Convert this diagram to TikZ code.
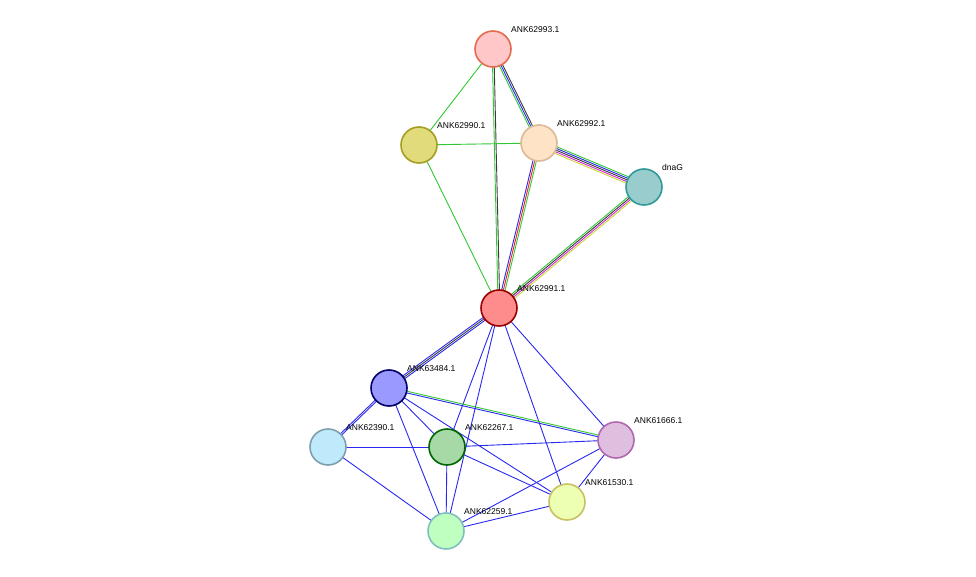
\documentclass[tikz,border=0pt]{standalone}
\usepackage{fontspec}
\setmainfont{Liberation Sans}
\usetikzlibrary{calc,backgrounds}
\definecolor{stgreen}{RGB}{51,199,51}
\definecolor{stblue}{RGB}{40,40,240}
\definecolor{styellow}{RGB}{200,215,50}
\definecolor{stmag}{RGB}{210,40,210}
\definecolor{stblack}{RGB}{60,60,60}
\definecolor{stred}{RGB}{240,30,30}
% parallel strands between two nodes
\newcommand{\strand}[4]{%
  \foreach \c [count=\i] in {#4}{%
    \pgfmathsetmacro{\off}{(\i-(#3+1)/2)*1.7}
    \draw[\c, line width=0.9pt] ($(#1)!\off pt!90:(#2)$) -- ($(#2)!\off pt!-90:(#1)$);
  }}
\begin{document}
\begin{tikzpicture}[x=1pt,y=-1pt,
    prot/.style={circle, draw, line width=1.6pt, minimum size=36pt, inner sep=0pt},
    lab/.style={font=\fontsize{8.5}{10}\selectfont, anchor=south west, inner sep=0pt}
  ]
  \useasboundingbox (0,0) rectangle (976,577);
  \node[prot, fill=red!22, draw=red!45!brown!80] (n93) at (493,49) {};
  \node[prot, fill=yellow!40!olive!45, draw=olive!80] (n90) at (419,145) {};
  \node[prot, fill=orange!22, draw=brown!55] (n92) at (539,143) {};
  \node[prot, fill=teal!40, draw=teal!80] (dnaG) at (644,187) {};
  \node[prot, fill=red!45, draw=red!60!black] (n91) at (499,308) {};
  \node[prot, fill=blue!40, draw=blue!40!black] (n84) at (389,388) {};
  \node[prot, fill=cyan!25, draw=cyan!30!gray] (n390) at (328,447) {};
  \node[prot, fill=green!40!gray!50, draw=green!40!black] (n267) at (447,447) {};
  \node[prot, fill=violet!25, draw=violet!60] (n666) at (616,440) {};
  \node[prot, fill=lime!30, draw=olive!50] (n530) at (567,502) {};
  \node[prot, fill=green!25, draw=teal!50] (n259) at (446,531) {};

  \node[lab] at (511,33) {ANK62993.1};
  \node[lab] at (437,129) {ANK62990.1};
  \node[lab] at (557,127) {ANK62992.1};
  \node[lab] at (662,171) {dnaG};
  \node[lab] at (517,292) {ANK62991.1};
  \node[lab] at (407,372) {ANK63484.1};
  \node[lab] at (346,431) {ANK62390.1};
  \node[lab] at (465,431) {ANK62267.1};
  \node[lab] at (634,424) {ANK61666.1};
  \node[lab] at (585,486) {ANK61530.1};
  \node[lab] at (464,515) {ANK62259.1};

  \begin{scope}[on background layer]
    \strand{n93}{n90}{1}{stgreen}
    \strand{n93}{n91}{2}{stgreen,stblack}
    \strand{n93}{n92}{3}{stgreen,stblue,stblack}
    \strand{n90}{n92}{1}{stgreen}
    \strand{n90}{n91}{1}{stgreen}
    \strand{n92}{dnaG}{5}{styellow,stmag,stblack,stblue,stgreen}
    \strand{n92}{n91}{3}{stblue,stred,stgreen}
    \strand{dnaG}{n91}{4}{stgreen,stblack,stmag,styellow}
    \strand{n91}{n84}{3}{stblue,stblack,stblue}
    \strand{n91}{n267}{1}{stblue}
    \strand{n91}{n259}{1}{stblue}
    \strand{n91}{n530}{1}{stblue}
    \strand{n91}{n666}{1}{stblue}
    \strand{n84}{n390}{2}{stblue,stblue}
    \strand{n84}{n267}{1}{stblue}
    \strand{n84}{n666}{2}{stblue,stgreen}
    \strand{n84}{n530}{1}{stblue}
    \strand{n84}{n259}{1}{stblue}
    \strand{n390}{n267}{1}{stblue}
    \strand{n390}{n259}{1}{stblue}
    \strand{n267}{n666}{1}{stblue}
    \strand{n267}{n530}{1}{stblue}
    \strand{n267}{n259}{1}{stblue}
    \strand{n666}{n259}{1}{stblue}
    \strand{n666}{n530}{1}{stblue}
    \strand{n530}{n259}{1}{stblue}
  \end{scope}
\end{tikzpicture}
\end{document}
